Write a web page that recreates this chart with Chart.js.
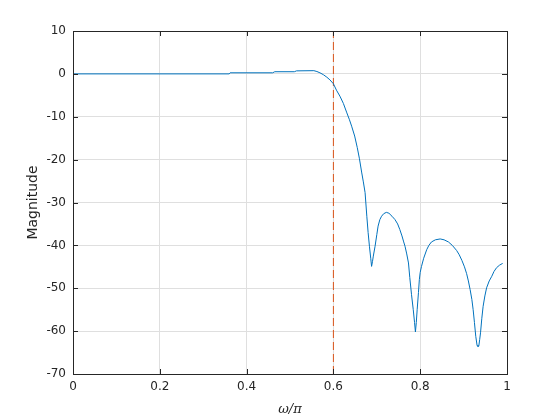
<!DOCTYPE html>
<html>
<head>
<meta charset="utf-8">
<script src="https://cdn.jsdelivr.net/npm/chart.js@4.4.1/dist/chart.umd.min.js"></script>
<style>
html,body{margin:0;padding:0;background:#fff;}
canvas{display:block;}
</style>
</head>
<body>
<canvas id="c" width="560" height="420"></canvas>
<script>
// Frequency (normalised, ω/π)
const freq = [0, 0.36, 0.362, 0.46, 0.465, 0.51, 0.515, 0.555, 0.562, 0.569, 0.577, 0.585, 0.592, 0.6, 0.607, 0.615, 0.623, 0.631, 0.637, 0.642, 0.649, 0.655, 0.66, 0.665, 0.669, 0.673, 0.677, 0.68, 0.683, 0.686, 0.688, 0.69, 0.692, 0.696, 0.7, 0.703, 0.707, 0.711, 0.716, 0.722, 0.728, 0.735, 0.742, 0.748, 0.753, 0.758, 0.762, 0.765, 0.769, 0.773, 0.776, 0.78, 0.784, 0.787, 0.789, 0.791, 0.793, 0.796, 0.798, 0.8, 0.803, 0.808, 0.815, 0.82, 0.826, 0.835, 0.846, 0.855, 0.865, 0.874, 0.884, 0.89, 0.896, 0.902, 0.907, 0.911, 0.915, 0.919, 0.922, 0.925, 0.928, 0.931, 0.933, 0.935, 0.937, 0.939, 0.942, 0.945, 0.949, 0.953, 0.959, 0.965, 0.97, 0.976, 0.983, 0.99];
// Magnitude (dB)
const magnitude = [0, 0, 0.25, 0.25, 0.5, 0.5, 0.7, 0.75, 0.55, 0.25, -0.2, -0.78, -1.4, -2.3, -3.8, -5.2, -6.9, -9.1, -10.7, -12.2, -14.5, -17.2, -19.8, -22.9, -25.2, -27.7, -33.2, -37, -40.2, -43, -44.9, -43.8, -42.5, -40.2, -37.5, -35.5, -34, -33.2, -32.6, -32.3, -32.5, -33.2, -34, -35, -36.3, -37.8, -39.2, -40.2, -42, -44.1, -47.5, -51.5, -55, -58, -60.2, -58, -55, -51, -48, -46.3, -44.9, -43, -41, -40, -39.2, -38.7, -38.5, -38.7, -39.2, -40, -41.2, -42.2, -43.5, -45, -46.6, -48.3, -50.3, -52.6, -55, -58, -61.2, -63.3, -63.6, -63.5, -62, -60.4, -57, -54.2, -51.8, -49.9, -48.3, -47.2, -46.1, -45.2, -44.6, -44.2];
// Cutoff marker
const cutoff = 0.6;
// Tick labels
const xTicks = [0, 0.2, 0.4, 0.6, 0.8, 1];
const xTickLabels = ['0', '0.2', '0.4', '0.6', '0.8', '1'];
const yTicks = [-70, -60, -50, -40, -30, -20, -10, 0, 10];
const yTickLabels = ['-70', '-60', '-50', '-40', '-30', '-20', '-10', '0', '10'];

const lineData = freq.map((f, i) => ({x: f, y: magnitude[i]}));
const cutoffData = [{x: cutoff, y: yTicks[0]}, {x: cutoff, y: yTicks[yTicks.length - 1]}];

const AX = '#262626';

const framePlugin = {
  id: 'frame',
  afterDatasetsDraw(chart) {
    const {ctx, chartArea: a, scales} = chart;
    ctx.save();
    ctx.strokeStyle = AX;
    ctx.lineWidth = 1;
    const tl = 5;
    ctx.beginPath();
    xTicks.forEach(v => {
      const px = Math.round(scales.x.getPixelForValue(v)) + 0.5;
      ctx.moveTo(px, a.bottom); ctx.lineTo(px, a.bottom - tl);
      ctx.moveTo(px, a.top); ctx.lineTo(px, a.top + tl);
    });
    yTicks.forEach(v => {
      const py = Math.round(scales.y.getPixelForValue(v)) + 0.5;
      ctx.moveTo(a.left, py); ctx.lineTo(a.left + tl, py);
      ctx.moveTo(a.right, py); ctx.lineTo(a.right - tl, py);
    });
    ctx.stroke();
    ctx.strokeRect(Math.round(a.left) + 0.5, Math.round(a.top) + 0.5, Math.round(a.right - a.left), Math.round(a.bottom - a.top));
    ctx.restore();
  }
};

new Chart(document.getElementById('c'), {
  type: 'scatter',
  data: {
    datasets: [
      {
        data: lineData,
        showLine: true,
        borderColor: '#0072BD',
        borderWidth: 1,
        pointRadius: 0,
        tension: 0,
        order: 1
      },
      {
        data: cutoffData,
        showLine: true,
        borderColor: '#D95319',
        borderWidth: 1,
        borderDash: [8, 4],
        pointRadius: 0,
        order: 2
      }
    ]
  },
  options: {
    responsive: false,
    animation: false,
    devicePixelRatio: 1,
    layout: {padding: {left: 0, right: 53, top: 31, bottom: 0}},
    plugins: {legend: {display: false}, tooltip: {enabled: false}},
    scales: {
      x: {
        type: 'linear', min: 0, max: 1,
        afterBuildTicks: s => { s.ticks = xTicks.map(v => ({value: v})); },
        afterFit: s => { s.height = 46; },
        ticks: {
          callback: (v) => xTickLabels[xTicks.indexOf(v)] ?? '',
          color: AX, padding: 6,
          font: {family: 'DejaVu Sans', size: 12},
          maxRotation: 0, autoSkip: false
        },
        grid: {color: '#dfdfdf', drawTicks: false},
        border: {display: false},
        title: {
          display: true, text: 'ω/π', color: AX,
          font: {family: 'DejaVu Serif', size: 13, style: 'italic'},
          padding: {top: 0, bottom: 3}
        }
      },
      y: {
        type: 'linear', min: -70, max: 10,
        afterBuildTicks: s => { s.ticks = yTicks.map(v => ({value: v})); },
        afterFit: s => { s.width = 73; },
        ticks: {
          callback: (v) => yTickLabels[yTicks.indexOf(v)] ?? '',
          color: AX, padding: 7,
          font: {family: 'DejaVu Sans', size: 12},
          autoSkip: false
        },
        grid: {color: '#dfdfdf', drawTicks: false},
        border: {display: false},
        title: {
          display: true, text: 'Magnitude', color: AX,
          font: {family: 'DejaVu Sans', size: 14},
          padding: {top: 25, bottom: 0}
        }
      }
    }
  },
  plugins: [framePlugin]
});
</script>
</body>
</html>
